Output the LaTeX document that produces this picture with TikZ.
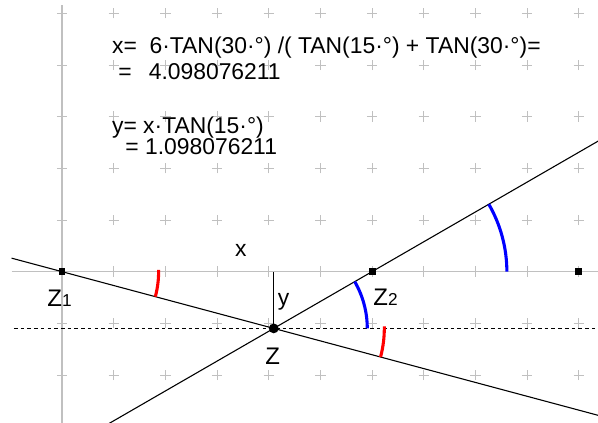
\documentclass[tikz,border=0pt]{standalone}
\usepackage{fontspec}
\setmainfont{Liberation Sans}
\usetikzlibrary{positioning, calc}
\definecolor{gridgray}{RGB}{192,192,192}
\definecolor{arcred}{RGB}{255,0,0}
\definecolor{arcblue}{RGB}{0,0,255}

\begin{document}
\begin{tikzpicture}[
  axis/.style={draw=gridgray, line width=0.6pt},
  cross/.style={draw=gridgray, line width=0.5pt},
  ray/.style={line width=0.6pt},
  hline/.style={line width=0.6pt, dash pattern=on 2pt off 1.7pt},
  sqpt/.style={rectangle, fill, minimum size=0.135cm, inner sep=0pt},
  dotpt/.style={circle, fill, minimum size=0.19cm, inner sep=0pt},
  lbl/.style={font=\fontsize{12.6}{14}\selectfont, inner sep=0pt},
  zlbl/.style={font=\fontsize{13.2}{15}\selectfont, inner sep=0pt},
  redarc/.style={draw=arcred, line width=1.7pt},
  bluearc/.style={draw=arcblue, line width=1.7pt},
]
  \useasboundingbox (-1.2,-2.928) rectangle (10.374,5.258);
  \clip (-1.2,-2.928) rectangle (10.374,5.258);

  \coordinate (Z1) at (0,0);
  \coordinate (Z2) at (6,0);
  \coordinate (Z)  at (4.098076,-1.098076);
  \coordinate (P)  at (10,0);

  \draw[axis] (0,5.16) -- (0,-2.93);
  \draw[axis] (-0.975,0) -- (10.374,0);
  \foreach \i in {0,...,10}
    \foreach \j in {-2,...,5}
      \draw[cross] (\i-0.1,\j) -- (\i+0.1,\j) (\i,\j-0.1) -- (\i,\j+0.1);

  \coordinate (La) at (-0.975,0.2612);
  \coordinate (Lb) at (10.5,-2.8135);
  \coordinate (Ma) at (0.85,-2.9734);
  \coordinate (Mb) at (10.5,2.5981);
  \coordinate (Da) at (-0.93,-1.098076);
  \coordinate (Db) at (10.5,-1.098076);
  \coordinate (Ztop) at (4.098076,0);

  \draw[hline] (Da) -- (Db);
  \draw[ray] (La) -- (Lb);
  \draw[ray] (Ma) -- (Mb);
  \draw[ray] (Z) -- (Ztop);

  \draw[redarc] ($(Z1)+(1:1.87)$) arc[start angle=1, end angle=-15, radius=1.87];
  \draw[redarc] ($(Z)+(1:2.14)$) arc[start angle=1, end angle=-15, radius=2.14];
  \draw[bluearc] ($(Z)+(0:1.81)$) arc[start angle=0, end angle=30, radius=1.81];
  \draw[bluearc] ($(Z2)+(0:2.61)$) arc[start angle=0, end angle=30, radius=2.61];

  \node[sqpt] (nZ1) at (Z1) {};
  \node[sqpt] (nZ2) at (Z2) {};
  \node[sqpt] (nP) at (P) {};
  \node[dotpt] (nZ) at (Z) {};

  \node[zlbl, anchor=base west] (lZ1) at (-0.29,-0.683) {Z{\fontsize{9.5}{10}\selectfont 1}};
  \node[zlbl, anchor=base west] (lZ2) at (6.02,-0.66) {Z{\fontsize{9.5}{10}\selectfont 2}};
  \node[zlbl, anchor=base] (lZ) at (4.08,-1.806) {Z};
  \node[lbl, anchor=base] (lx) at (3.46,0.29) {x};
  \node[lbl, anchor=base west] (ly) at (4.17,-0.66) {y};

  \node[lbl, anchor=base west] (t1) at (0.962,4.227) {x=\ \ 6·TAN(30·°) /( TAN(15·°) + TAN(30·°)=};
  \node[lbl, anchor=base west] (t2) at (1.084,3.71) {=\hspace{0.33cm}4.098076211};
  \node[lbl, anchor=base west] (t3) at (0.962,2.679) {y= x·TAN(15·°)};
  \node[lbl, anchor=base west] (t4) at (1.22,2.259) {= 1.098076211};
\end{tikzpicture}
\end{document}
